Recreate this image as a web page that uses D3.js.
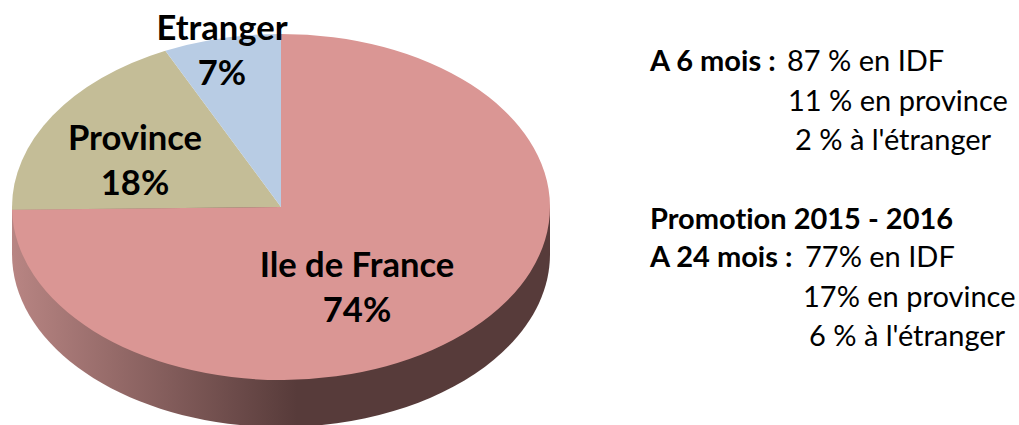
<!DOCTYPE html>
<html>
<head>
<meta charset="utf-8">
<script src="https://cdn.jsdelivr.net/npm/d3@7"></script>
<style>
  html, body { margin: 0; padding: 0; background: #fff; overflow: hidden; }
  svg { display: block; font-family: Lato, "Open Sans", sans-serif; font-variant-ligatures: none; }
</style>
</head>
<body>
<svg id="chart" width="1019" height="425"></svg>
<script>
// Datas
const categories = ["Ile de France", "Province", "Etranger"];
const values = [74, 18, 7];
const colors = ["#da9694", "#c4bd97", "#b8cce4"];

const noteTitles = ["A 6 mois :", "Promotion 2015 - 2016", "A 24 mois :"];
const notesSixMonths = ["87 % en IDF", "11 % en province", "2 % à l'étranger"];
const notesTwentyFourMonths = ["77% en IDF", "17% en province", "6 % à l'étranger"];

// Constants
const cx = 281, cy = 207;
const rx = 269, ry = 173;
const depth = 47;
const svg = d3.select("#chart");

// Side of the pie
const defs = svg.append("defs");
const gradient = defs
  .append("linearGradient")
  .attr("id", "side-gradient")
  .attr("gradientUnits", "userSpaceOnUse")
  .attr("x1", cx - rx)
  .attr("x2", cx + rx)
  .attr("y1", 0)
  .attr("y2", 0);
gradient.append("stop").attr("offset", "0%").attr("stop-color", "#b88583");
gradient.append("stop").attr("offset", "53%").attr("stop-color", "#573b3a");
gradient.append("stop").attr("offset", "100%").attr("stop-color", "#573b3a");

const side = d3.path();
side.moveTo(cx - rx, cy);
side.lineTo(cx - rx, cy + depth);
side.bezierCurveTo(
  cx - rx, cy + depth + ry * 0.5523,
  cx - rx * 0.5523, cy + depth + ry,
  cx, cy + depth + ry
);
side.bezierCurveTo(
  cx + rx * 0.5523, cy + depth + ry,
  cx + rx, cy + depth + ry * 0.5523,
  cx + rx, cy + depth
);
side.lineTo(cx + rx, cy);
side.closePath();
svg.append("path").attr("d", side.toString()).attr("fill", "url(#side-gradient)");

// Top of the pie
const pie = d3.pie().sort(null).value((d) => d);
const arc = d3.arc().innerRadius(0).outerRadius(rx);
svg
  .append("g")
  .attr("transform", `translate(${cx}, ${cy}) scale(1, ${ry / rx})`)
  .selectAll("path")
  .data(pie(values))
  .join("path")
  .attr("d", arc)
  .attr("fill", (d, i) => colors[i]);

// Labels
const labelPos = [
  { x: 357, y: 277 },
  { x: 135, y: 150 },
  { x: 222, y: 40 },
];
const labels = svg
  .append("g")
  .attr("text-anchor", "middle")
  .attr("font-weight", 700)
  .attr("font-size", 34.6)
  .attr("fill", "#000");
categories.forEach((name, i) => {
  labels.append("text").attr("x", labelPos[i].x).attr("y", labelPos[i].y).text(name);
  labels
    .append("text")
    .attr("x", labelPos[i].x)
    .attr("y", labelPos[i].y + 45)
    .text(values[i] + "%");
});

// Notes on the right
const notes = svg.append("g").attr("font-size", 29).attr("fill", "#000");
const addNote = (x, y, txt, bold) =>
  notes
    .append("text")
    .attr("x", x)
    .attr("y", y)
    .attr("font-weight", bold ? 700 : 400)
    .text(txt);

addNote(650, 71, noteTitles[0], true);
addNote(650, 229, noteTitles[1], true);
addNote(650, 267, noteTitles[2], true);

[787, 788, 795].forEach((x, i) => addNote(x, 71 + i * 39.5, notesSixMonths[i], false));
[805, 803, 809].forEach((x, i) => addNote(x, 267 + i * 39.5, notesTwentyFourMonths[i], false));
</script>
</body>
</html>
